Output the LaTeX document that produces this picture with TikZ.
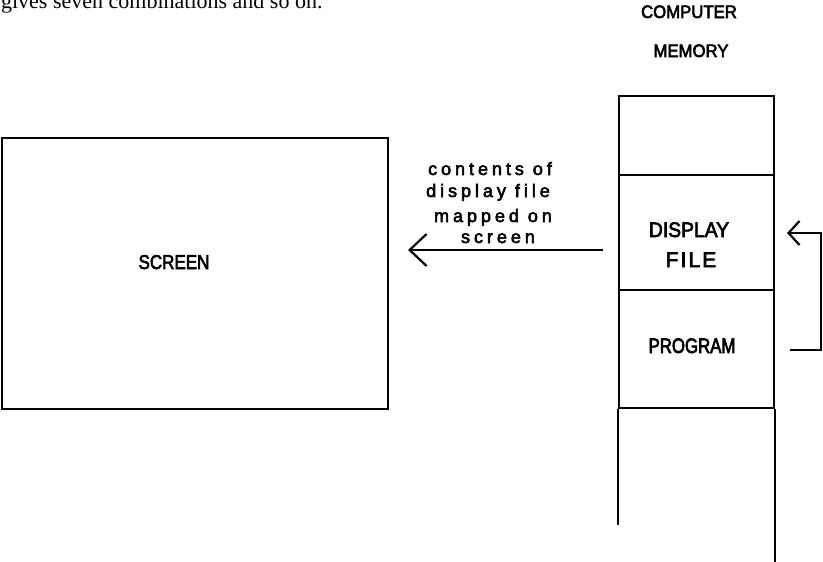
\documentclass[tikz,border=0pt]{standalone}
\usepackage{fontspec}
\setmainfont{Liberation Serif}
\newfontfamily\capsfont[FakeStretch=0.85,FakeBold=3]{Liberation Sans}
\newfontfamily\capswide[FakeStretch=0.93,FakeBold=3]{Liberation Sans}
\newfontfamily\capsnarrow[FakeStretch=0.8,FakeBold=3]{Liberation Sans}
\newfontfamily\widecaps[FakeStretch=0.92,FakeBold=3]{Liberation Sans}
\newfontfamily\filecaps[LetterSpace=10,FakeBold=3]{Liberation Sans}
\newfontfamily\spacedfont[LetterSpace=22,FakeBold=3]{Liberation Sans}
\usetikzlibrary{arrows.meta}
\begin{document}
\begin{tikzpicture}[x=1pt,y=-1pt,line width=2.2pt,
  cell/.style={draw,minimum width=155pt,inner sep=0pt,anchor=north west},
  caplabel/.style={anchor=base,inner sep=0pt,font=\capsfont\fontsize{20}{20}\selectfont},
  note/.style={anchor=base,inner sep=0pt,font=\spacedfont\fontsize{18}{18}\selectfont},
  bigarrow/.style={-{Straight Barb[length=17pt,width=32pt]}},
  smallarrow/.style={-{Straight Barb[length=11pt,width=24pt]}}]
\useasboundingbox (0,0) rectangle (823,562);
% running text at top
\node[anchor=base west,inner sep=0pt,font=\fontsize{22}{22}\selectfont] (toptext) at (0,9) {gives seven combinations and so on.};
% screen
\node[draw,minimum width=386pt,minimum height=271pt,inner sep=0pt,anchor=north west] (screen) at (1,137) {};
\node[caplabel] (screenlbl) at (174,269) {SCREEN};
% memory
\node[caplabel,font=\capswide\fontsize{18}{18}\selectfont] (comp) at (689,18) {COMPUTER};
\node[caplabel,font=\capswide\fontsize{18}{18}\selectfont] (mem) at (691,57) {MEMORY};
\node[cell,minimum height=79pt] (topcell) at (618,95) {};
\node[cell,minimum height=115pt] (display) at (618,174) {};
\node[cell,minimum height=118pt] (program) at (618,289) {};
\draw (program.south west) -- ++(0,116);
\draw (program.south east) -- ++(0,155);
\node[caplabel,font=\widecaps\fontsize{21}{21}\selectfont] (displbl) at (689,237) {DISPLAY};
\node[caplabel,font=\filecaps\fontsize{21}{21}\selectfont] (filelbl) at (691,267) {FILE};
\node[caplabel,font=\capsnarrow\fontsize{21}{21}\selectfont] (proglbl) at (692,353) {PROGRAM};
% mapping arrow
\coordinate (mapstart) at (603,250);
\coordinate (mapend) at (408,250);
\draw[bigarrow] (mapstart) -- (mapend);
\node[note] (n1) at (490,175) {contents of};
\node[note] (n2) at (488,197) {display file};
\node[note] (n3) at (493,222) {mapped on};
\node[note] (n4) at (498,243) {screen};
% feedback arrow
\coordinate (fb1) at (790,350);
\coordinate (fb2) at (821,350);
\coordinate (fb3) at (821,233);
\coordinate (fb4) at (787,233);
\draw[smallarrow] (fb1) -- (fb2) -- (fb3) -- (fb4);
\end{tikzpicture}
\end{document}
